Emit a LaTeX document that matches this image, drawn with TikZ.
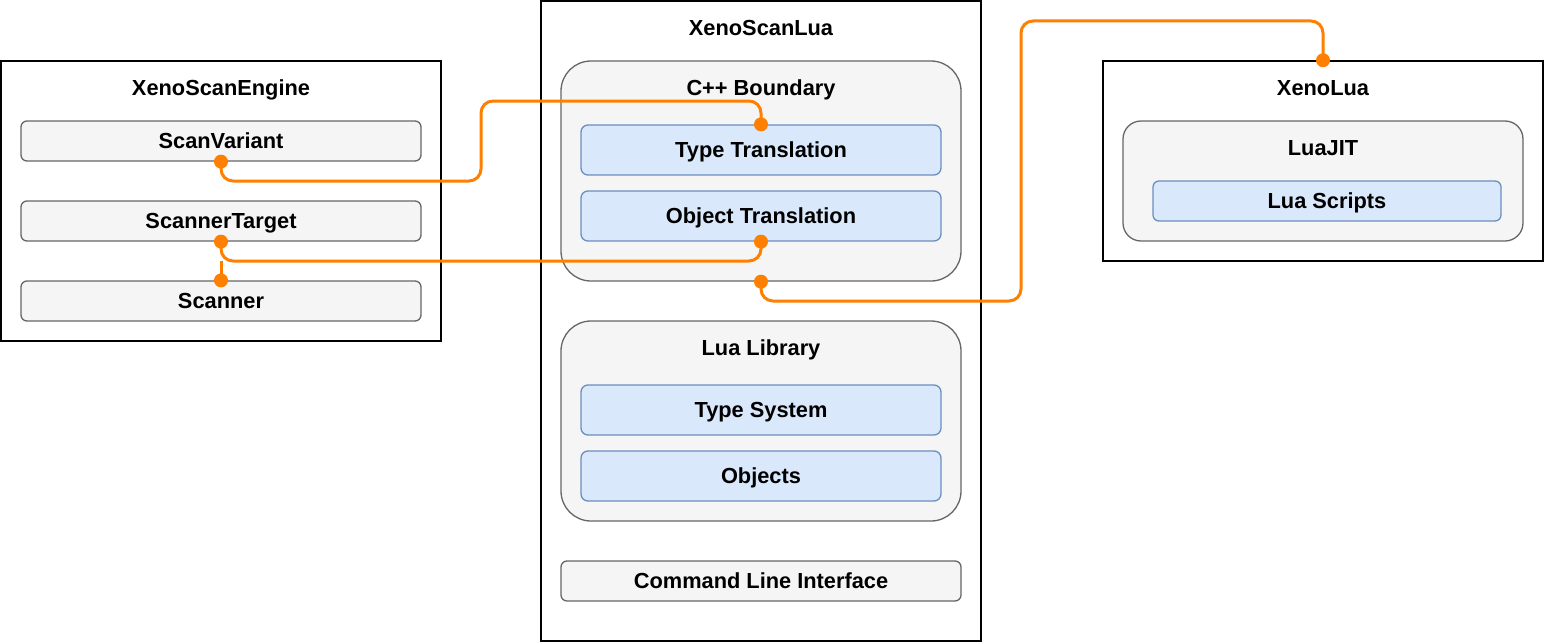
\documentclass[tikz,border=0pt]{standalone}
\usepackage{fontspec}
\setmainfont{Liberation Sans}
\begin{document}
\begin{tikzpicture}[x=1pt,y=-1pt,
  font=\fontsize{21.8}{26}\selectfont\bfseries,
  every node/.style={text height=15.6pt,text depth=0pt},
  outer/.style={draw=black,line width=1.5pt,fill=white,inner sep=0pt},
  title/.style={inner sep=0pt},
  conn/.style={draw=orange1,line width=3pt,rounded corners=12pt},
  dot/.style={fill=orange1}]
\definecolor{orange1}{HTML}{FF8000}
\definecolor{bluestroke}{HTML}{6C8EBF}
\definecolor{bluefill}{HTML}{DAE8FC}
\definecolor{grayfill}{HTML}{F5F5F5}
\definecolor{graystroke}{HTML}{666666}
\tikzset{bbox/.style={draw=bluestroke,line width=1.3pt,fill=bluefill,inner sep=0pt,rounded corners=7pt}}
\tikzset{gbox/.style={draw=graystroke,line width=1.3pt,fill=grayfill,inner sep=0pt,rounded corners=6pt}}
\useasboundingbox (0,0) rectangle (1544,642);
% XenoScanEngine
\node[outer,minimum width=440pt,minimum height=280pt] (eng) at (221,201) {};
\node[title] (engt) at (221,88) {XenoScanEngine};
\node[gbox,minimum width=400pt,minimum height=40pt] (sv) at (221,141) {ScanVariant};
\node[gbox,minimum width=400pt,minimum height=40pt] (st) at (221,221) {ScannerTarget};
\node[gbox,minimum width=400pt,minimum height=40pt] (sc) at (221,301) {Scanner};
% XenoScanLua
\node[outer,minimum width=440pt,minimum height=640pt] (lua) at (761,321) {};
\node[title] (luat) at (761,28) {XenoScanLua};
\node[gbox,rounded corners=30pt,minimum width=400pt,minimum height=220pt] (cpp) at (761,171) {};
\node[title] (cppt) at (761,88) {C++ Boundary};
\node[bbox,minimum width=360pt,minimum height=50pt] (tt) at (761,150) {Type Translation};
\node[bbox,minimum width=360pt,minimum height=50pt] (ot) at (761,216) {Object Translation};
\node[gbox,rounded corners=30pt,minimum width=400pt,minimum height=200pt] (lib) at (761,421) {};
\node[title] (libt) at (761,348) {Lua Library};
\node[bbox,minimum width=360pt,minimum height=50pt] (ts) at (761,410) {Type System};
\node[bbox,minimum width=360pt,minimum height=50pt] (ob) at (761,476) {Objects};
\node[gbox,minimum width=400pt,minimum height=40pt] (cli) at (761,581) {Command Line Interface};
% XenoLua
\node[outer,minimum width=440pt,minimum height=200pt] (xl) at (1323,161) {};
\node[title] (xlt) at (1323,88) {XenoLua};
\node[gbox,rounded corners=18pt,minimum width=400pt,minimum height=120pt] (jit) at (1323,181) {};
\node[title] (jitt) at (1323,148) {LuaJIT};
\node[bbox,rounded corners=6pt,minimum width=348pt,minimum height=40pt] (ls) at (1327,201) {Lua Scripts};
% connectors
\coordinate (j1) at (221,261);
\draw[conn] (sv.south) -- (sv.south |- 0,181) -- (481,181) -- (481,101) -- (tt.north |- 0,101) -- (tt.north);
\draw[conn] (st.south) -- (st.south |- 0,261) -- (ot.south |- 0,261) -- (ot.south);
\draw[conn] (sc.north) -- (j1);
\draw[conn] (cpp.south) -- (cpp.south |- 0,301) -- (1021,301) -- (1021,21) -- (xl.north |- 0,21) -- (xl.north);
\foreach \p in {sv.south,tt.north,st.south,ot.south,sc.north,cpp.south,xl.north}
  \fill[dot] (\p) circle (7pt);
\end{tikzpicture}
\end{document}
